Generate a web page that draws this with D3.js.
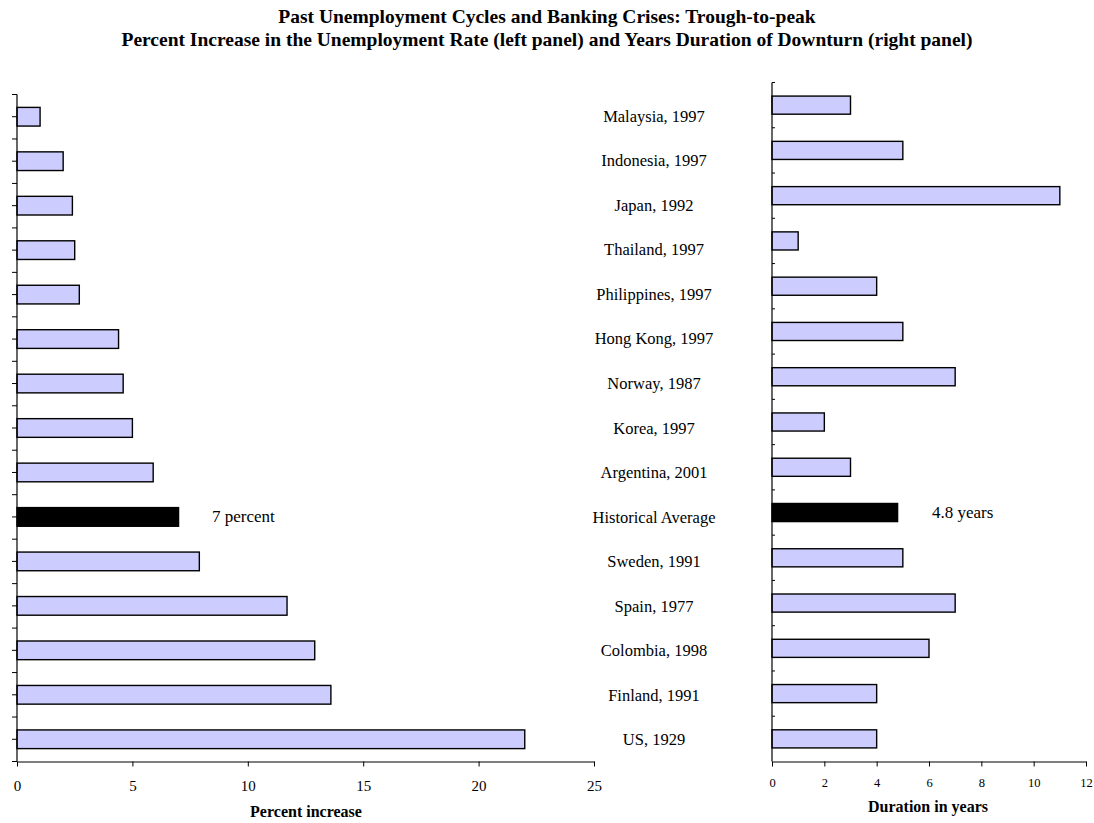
<!DOCTYPE html>
<html>
<head>
<meta charset="utf-8">
<script src="https://cdn.jsdelivr.net/npm/d3@7"></script>
<style>
  body { margin: 0; background: #fff; }
  svg { font-family: "Liberation Serif", "Times New Roman", serif; }
</style>
</head>
<body>
<svg id="chart" width="1094" height="823"></svg>
<script>
// Episodes, listed top to bottom
const categories = [
  "Malaysia, 1997", "Indonesia, 1997", "Japan, 1992", "Thailand, 1997",
  "Philippines, 1997", "Hong Kong, 1997", "Norway, 1987", "Korea, 1997",
  "Argentina, 2001", "Historical Average", "Sweden, 1991", "Spain, 1977",
  "Colombia, 1998", "Finland, 1991", "US, 1929"
];
// Trough-to-peak percent increase in the unemployment rate
const percentIncrease = [1, 2, 2.4, 2.5, 2.7, 4.4, 4.6, 5, 5.9, 7, 7.9, 11.7, 12.9, 13.6, 22];
// Duration of downturn, in years
const durationYears = [3, 5, 11, 1, 4, 5, 7, 2, 3, 4.8, 5, 7, 6, 4, 4];
const percentTicks = [0, 5, 10, 15, 20, 25];
const yearTicks = [0, 2, 4, 6, 8, 10, 12];
const averageLabel = "Historical Average";
const percentNote = "7 percent";
const yearsNote = "4.8 years";

const svg = d3.select("#chart");
const fill = "#CCCCFF";

// Title
const title = svg.append("g").attr("font-weight", "bold").attr("font-size", 19.5)
  .attr("text-anchor", "middle");
title.append("text").attr("x", 547).attr("y", 23)
  .text("Past Unemployment Cycles and Banking Crises: Trough-to-peak");
title.append("text").attr("x", 547).attr("y", 46)
  .text("Percent Increase in the Unemployment Rate (left panel) and Years Duration of Downturn (right panel)");

// ---------- Left panel ----------
const xL = d3.scaleLinear().domain([0, 25]).range([17, 594]);
const yL = d3.scaleBand().domain(categories).range([94.5, 761.5]).paddingInner(0.58).paddingOuter(0.29);

const gL = svg.append("g");
gL.selectAll("rect").data(categories).join("rect")
  .attr("x", xL(0))
  .attr("y", d => yL(d))
  .attr("width", (d, i) => xL(percentIncrease[i]) - xL(0))
  .attr("height", yL.bandwidth())
  .attr("fill", d => d === averageLabel ? "#000" : fill)
  .attr("stroke", "#000").attr("stroke-width", 1.4);

// vertical axis line with ticks at band edges and centres
const stepL = yL.step();
const leftTicks = [];
categories.forEach(c => {
  leftTicks.push(yL(c) - (stepL - yL.bandwidth()) / 2, yL(c) + yL.bandwidth() / 2);
});
leftTicks.push(761.5);
gL.append("line").attr("x1", xL(0)).attr("x2", xL(0)).attr("y1", 94.5).attr("y2", 761.5)
  .attr("stroke", "#000").attr("stroke-width", 1.2);
gL.selectAll("line.t").data(leftTicks).join("line").attr("class", "t")
  .attr("x1", xL(0) - 5).attr("x2", xL(0)).attr("y1", d => d).attr("y2", d => d)
  .attr("stroke", "#000").attr("stroke-width", 1);

const axL = gL.append("g").attr("transform", "translate(0,761.5)")
  .call(d3.axisBottom(xL).tickValues(percentTicks).tickSize(5).tickSizeOuter(0));
axL.select(".domain").attr("stroke-width", 1.2);
axL.selectAll("text").attr("font-family", "Liberation Serif, serif").attr("font-size", 15)
  .attr("dy", null).attr("y", 29).attr("fill", "#000");

gL.append("text").attr("x", 306).attr("y", 817).attr("text-anchor", "middle")
  .attr("font-weight", "bold").attr("font-size", 16).text("Percent increase");

gL.append("text").attr("x", 212).attr("y", yL(averageLabel) + yL.bandwidth() / 2 + 5)
  .attr("font-size", 17).text(percentNote);

// ---------- Category labels ----------
const yM = d3.scaleBand().domain(categories).range([94, 762]);
svg.append("g").selectAll("text").data(categories).join("text")
  .attr("x", 654).attr("y", d => yM(d) + yM.bandwidth() / 2 + 5.5)
  .attr("text-anchor", "middle").attr("font-size", 16.5).text(d => d);

// ---------- Right panel ----------
const xR = d3.scaleLinear().domain([0, 12]).range([772, 1086]);
const yR = d3.scaleBand().domain(categories).range([82.5, 761.5]).paddingInner(0.6).paddingOuter(0.3);

const gR = svg.append("g");
gR.selectAll("rect").data(categories).join("rect")
  .attr("x", xR(0))
  .attr("y", d => yR(d))
  .attr("width", (d, i) => xR(durationYears[i]) - xR(0))
  .attr("height", yR.bandwidth())
  .attr("fill", d => d === averageLabel ? "#000" : fill)
  .attr("stroke", "#000").attr("stroke-width", 1.4);

const stepR = yR.step();
const rightTicks = categories.map(c => yR(c) - (stepR - yR.bandwidth()) / 2);
gR.append("line").attr("x1", xR(0)).attr("x2", xR(0)).attr("y1", 82.5).attr("y2", 761.5)
  .attr("stroke", "#000").attr("stroke-width", 1.2);
gR.selectAll("line.t").data(rightTicks).join("line").attr("class", "t")
  .attr("x1", xR(0)).attr("x2", xR(0) + 3).attr("y1", d => d).attr("y2", d => d)
  .attr("stroke", "#000").attr("stroke-width", 1);

const axR = gR.append("g").attr("transform", "translate(0,761.5)")
  .call(d3.axisBottom(xR).tickValues(yearTicks).tickSize(5).tickSizeOuter(0));
axR.select(".domain").attr("stroke-width", 1.2);
axR.selectAll("text").attr("font-family", "Liberation Serif, serif").attr("font-size", 12.5)
  .attr("dy", null).attr("y", 25).attr("fill", "#000");

gR.append("text").attr("x", 928).attr("y", 812).attr("text-anchor", "middle")
  .attr("font-weight", "bold").attr("font-size", 16).text("Duration in years");

gR.append("text").attr("x", 932).attr("y", yR(averageLabel) + yR.bandwidth() / 2 + 5)
  .attr("font-size", 17).text(yearsNote);
</script>
</body>
</html>
